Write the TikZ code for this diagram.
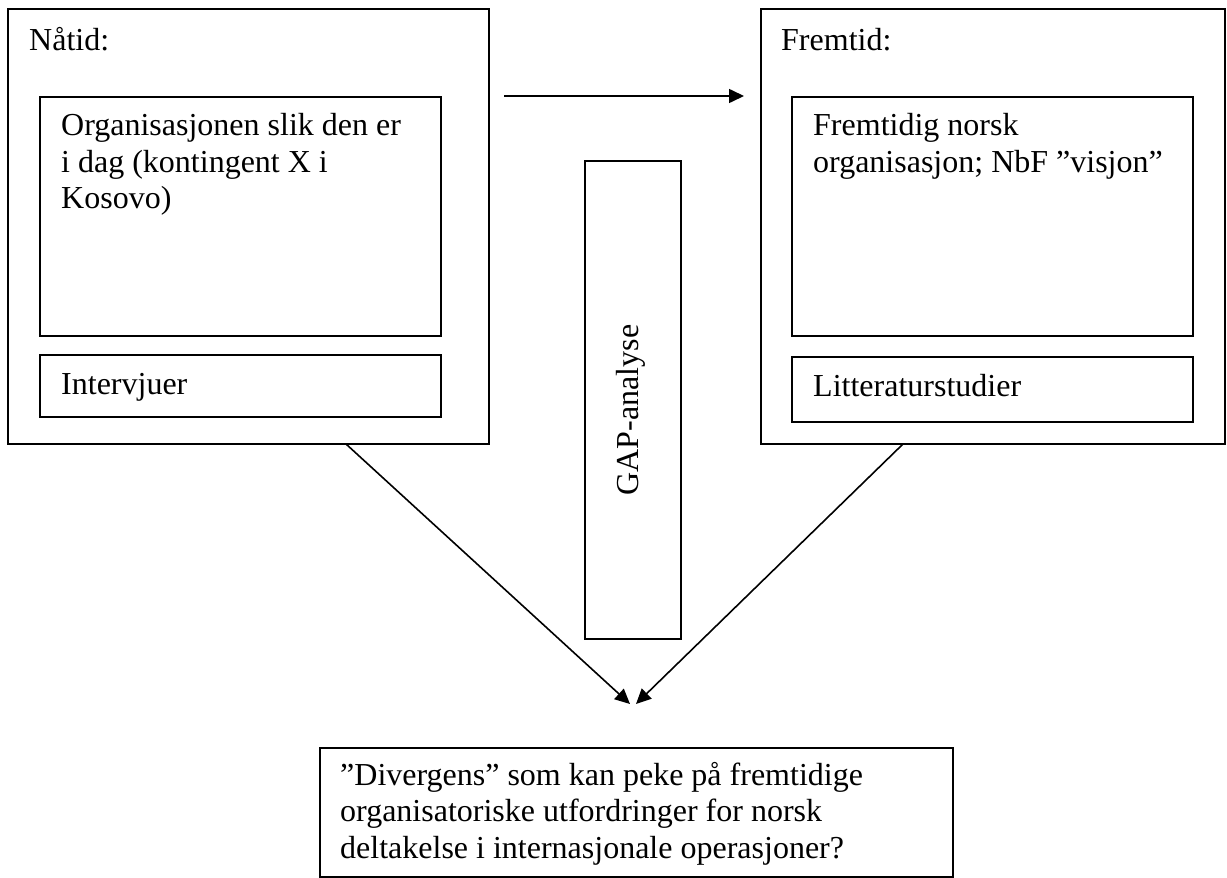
\documentclass[tikz,border=0pt]{standalone}
\usepackage{fontspec}
\setmainfont{Liberation Serif}
\usetikzlibrary{arrows.meta}
\begin{document}
\begin{tikzpicture}[x=1pt,y=-1pt,
  frame/.style={draw, line width=1.6pt, inner sep=0pt, outer sep=0pt, anchor=north west},
  txt/.style={anchor=base west, inner sep=0pt, font=\fontsize{32}{36.8}\selectfont},
  conn/.style={line width=1.6pt, -{Triangle[length=15pt,width=14pt]}}]
\useasboundingbox (0,0) rectangle (1227,878);

% present state (left)
\node[frame, minimum width=481pt, minimum height=435pt] (now) at (8,9) {};
\node[txt] (nowT) at (29,50) {Nåtid:};
\node[frame, minimum width=401pt, minimum height=239pt] (org) at (40,97) {};
\node[txt] (orgA) at (61,135) {Organisasjonen slik den er};
\node[txt] (orgB) at (61,172) {i dag (kontingent X i};
\node[txt] (orgC) at (61,208.5) {Kosovo)};
\node[frame, minimum width=401pt, minimum height=62pt] (intv) at (40,355) {};
\node[txt] (intvT) at (61,394) {Intervjuer};

% future state (right)
\node[frame, minimum width=464pt, minimum height=435pt] (fut) at (761,9) {};
\node[txt] (futT) at (781,50) {Fremtid:};
\node[frame, minimum width=401pt, minimum height=239pt] (vis) at (792,97) {};
\node[txt] (visA) at (813,135) {Fremtidig norsk};
\node[txt] (visB) at (813,172) {organisasjon; NbF ”visjon”};
\node[frame, minimum width=401pt, minimum height=65pt] (lit) at (792,357) {};
\node[txt] (litT) at (813,396) {Litteraturstudier};

% gap analysis column
\node[frame, minimum width=96pt, minimum height=478pt] (gap) at (585,161) {};
\node[anchor=base, inner sep=0pt, rotate=90, font=\fontsize{32}{36.8}\selectfont] (gapT) at (638,410) {GAP-analyse};

% result box
\node[frame, minimum width=633pt, minimum height=129pt] (res) at (320,748) {};
\node[txt] (resA) at (340,785) {”Divergens” som kan peke på fremtidige};
\node[txt] (resB) at (340,821.5) {organisatoriske utfordringer for norsk};
\node[txt] (resC) at (340,858) {deltakelse i internasjonale operasjoner?};

% connectors
\coordinate (arrS) at (504,96);
\coordinate (arrE) at (744,96);
\draw[conn] (arrS) -- (arrE);
\coordinate (nowOut) at (346,444);
\coordinate (futOut) at (903,444);
\coordinate (meetL) at (630,704);
\coordinate (meetR) at (636,704);
\draw[conn] (nowOut) -- (meetL);
\draw[conn] (futOut) -- (meetR);
\end{tikzpicture}
\end{document}
